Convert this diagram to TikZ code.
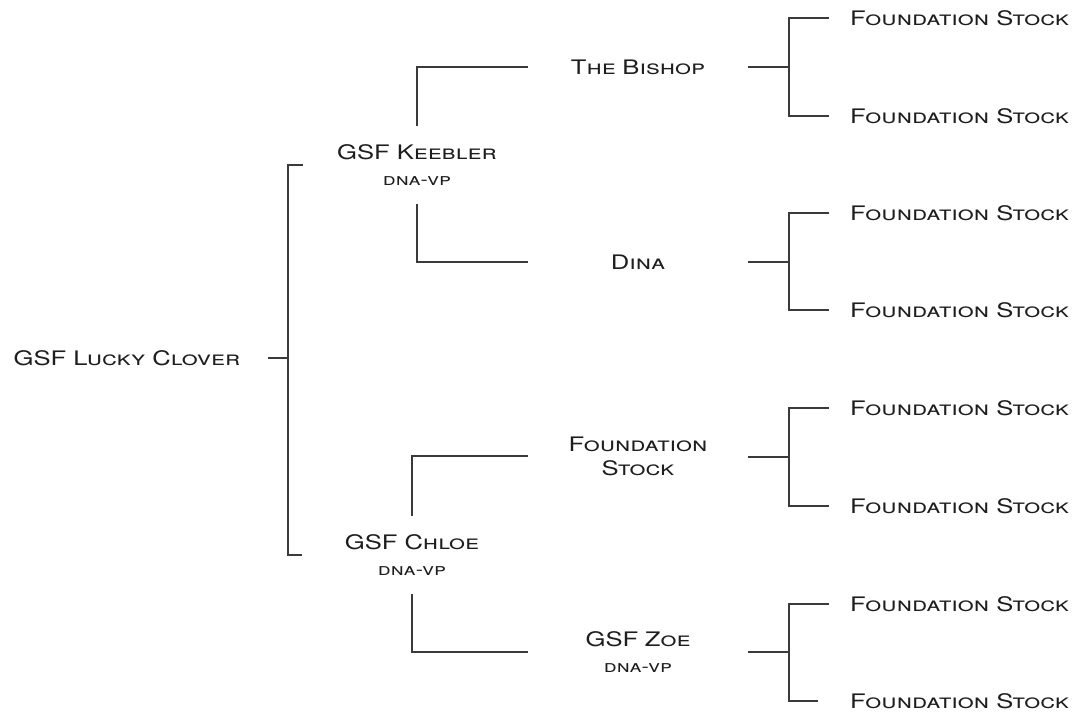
\documentclass[tikz,border=0pt]{standalone}
\usepackage{fontspec}
\setmainfont{TeX Gyre Heros}[FakeStretch=1.28]
\usetikzlibrary{positioning}
\definecolor{linegray}{HTML}{3A3A3A}
\definecolor{textgray}{HTML}{1E1E1E}
% Fonts for the pedigree
\newcommand{\pedigreefont}{\fontsize{20}{22}\selectfont\scshape}
\newcommand{\regno}[1]{{\fontsize{17}{17}\selectfont\scshape #1}}
\tikzset{
  link/.style={draw=linegray, line width=1.3pt},
  horse/.style={font=\pedigreefont, text=textgray, inner sep=0pt},
  parent/.style={horse, align=center, minimum height=78pt},
  sire/.style={horse, align=center, text width=220pt},
  leaf/.style={horse, anchor=west, inner xsep=21pt},
}
\begin{document}
\begin{tikzpicture}[x=1pt, y=-1pt]
\useasboundingbox (0,0) rectangle (1075,713);

% First and second generation
\node[horse] (root) at (127,358) {GSF Lucky Clover};
\node[parent] (keebler) at (417,165) {GSF Keebler\\[4pt]\regno{dna-vp}};
\node[parent] (chloe) at (412,555) {GSF Chloe\\[4pt]\regno{dna-vp}};

% Third generation
\node[sire] (bishop) at (638,67) {The Bishop};
\node[sire] (dina) at (638,262) {Dina};
\node[sire] (stock) at (638,456) {Foundation\\[2pt]Stock};
\node[sire] (zoe) at (638,652) {GSF Zoe\\[4pt]\regno{dna-vp}};

% Fourth generation
\node[leaf] (fs1) at (829,18) {Foundation Stock};
\node[leaf] (fs2) at (829,116) {Foundation Stock};
\node[leaf] (fs3) at (829,213) {Foundation Stock};
\node[leaf] (fs4) at (829,310) {Foundation Stock};
\node[leaf] (fs5) at (829,408) {Foundation Stock};
\node[leaf] (fs6) at (829,506) {Foundation Stock};
\node[leaf] (fs7) at (829,604) {Foundation Stock};
\node[leaf] (fs8) at (829,701) {Foundation Stock};

% Forks
\coordinate (rootfork) at (288,358);
\coordinate (bishopfork) at (789,67);
\coordinate (dinafork) at (789,262);
\coordinate (stockfork) at (789,457);
\coordinate (zoefork) at (789,652);

% Connect everything
\draw[link] (rootfork) ++(-20,0) -- (rootfork);
\draw[link] (rootfork |- keebler) ++(15,0) -| (rootfork |- chloe) -- ++(14,0);
\draw[link] (keebler.north) |- (bishop.west);
\draw[link] (keebler.south) |- (dina.west);
\draw[link] (chloe.north) |- (stock.west);
\draw[link] (chloe.south) |- (zoe.west);
\draw[link] (bishop.east) -- (bishopfork);
\draw[link] (dina.east) -- (dinafork);
\draw[link] (stock.east |- stockfork) -- (stockfork);
\draw[link] (zoe.east) -- (zoefork);
\draw[link] (fs1.west) -| (bishopfork) |- (fs2.west);
\draw[link] (fs3.west) -| (dinafork) |- (fs4.west);
\draw[link] (fs5.west) -| (stockfork) |- (fs6.west);
\draw[link, shorten >=11pt] (fs7.west) -| (zoefork) |- (fs8.west);
\end{tikzpicture}
\end{document}
